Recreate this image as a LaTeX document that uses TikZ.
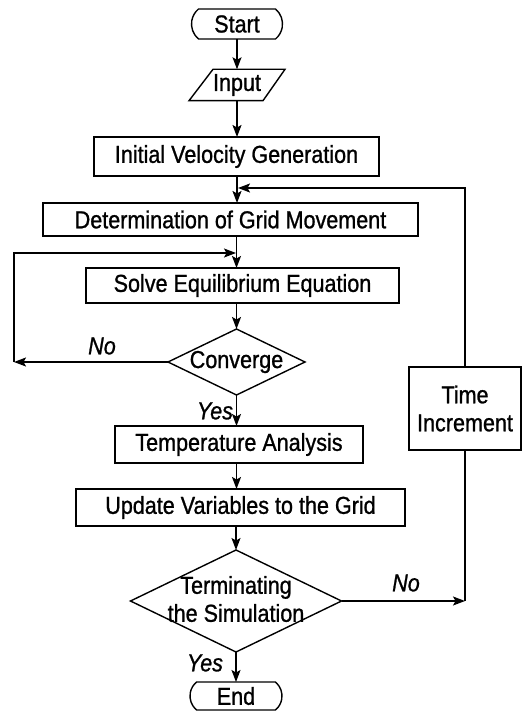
\documentclass[tikz,border=0pt]{standalone}
\usepackage{fontspec}
\setmainfont{Liberation Sans}[FakeStretch=0.88,FakeBold=1]
\usetikzlibrary{shapes.geometric,shapes.misc,arrows.meta}

\begin{document}
\begin{tikzpicture}[x=1pt,y=-1pt,
  font=\fontsize{24.5}{28}\selectfont,
  line width=1.4pt,
  box/.style={draw, rectangle, inner sep=0pt, outer sep=0pt},
  terminal/.style={draw, rounded rectangle, rounded rectangle arc length=100, inner sep=0pt, outer sep=0pt},
  decision/.style={draw, diamond, inner sep=0pt, outer sep=0pt},
  flow/.style={-{Stealth[length=12pt,width=9pt,inset=2.5pt]}},
  lbl/.style={font=\fontsize{24.5}{28}\selectfont\itshape},
]
\useasboundingbox (0,0) rectangle (524,711);

% process steps
\node[terminal, minimum width=91pt, minimum height=30pt] (start) at (237,24) {Start};
\node[inner sep=0pt, minimum width=74pt, minimum height=30pt] (input) at (237,85) {Input};
\draw ([xshift=-24pt]input.north) -- ([xshift=48pt]input.north)
   -- ([xshift=26pt]input.south) -- ([xshift=-48pt]input.south) -- cycle;
\node[box, minimum width=285pt, minimum height=39pt] (ivg) at (236.5,156.5) {Initial Velocity Generation};
\node[box, minimum width=375pt, minimum height=33pt] (dgm) at (230.5,219.5) {Determination of Grid Movement};
\node[box, minimum width=313pt, minimum height=35pt] (see) at (242.5,285.5) {Solve Equilibrium Equation};
\node[decision, minimum width=137pt, minimum height=66pt] (conv) at (236.5,362) {};
\node (convtxt) at (236.5,362) {Converge};
\node[box, minimum width=248pt, minimum height=37pt] (temp) at (239,444.5) {Temperature Analysis};
\node[box, minimum width=329pt, minimum height=37pt] (upd) at (240.5,507.5) {Update Variables to the Grid};
\node[decision, minimum width=211pt, minimum height=102pt] (termd) at (236,601) {};
\node[align=center, inner sep=0pt] (termtxt) at (236,599) {Terminating\\the Simulation};
\node[terminal, minimum width=92pt, minimum height=28pt] (end) at (236,696) {End};
\node[box, align=center, minimum width=112pt, minimum height=83pt] (tinc) at (465,408.5) {Time\\Increment};

% main flow
\draw[flow] (start.south) -- (start.south |- input.north);
\draw[flow] (input.south) -- (input.south |- ivg.north);
\draw[flow] (ivg.south -| input.south) -- (input.south |- dgm.north);
\draw[flow] (dgm.south -| conv.north) -- (conv.north |- see.north);
\draw[flow] (see.south -| conv.north) -- (conv.north);
\draw[flow] (conv.south) -- (conv.south |- temp.north);
\draw[flow] (temp.south -| conv.south) -- (conv.south |- upd.north);
\draw[flow] (upd.south -| termd.north) -- (termd.north);
\draw[flow] (termd.south) -- (end.north);

% inner loop: not converged
\coordinate (nl) at (14,362);
\coordinate (nj) at (236,253);
\draw[flow] (conv.west) -- (nl);
\draw[flow] (nl) |- (nj);

% outer loop: next time step
\coordinate (fb) at (238,188);
\draw[flow] (termd.east) -- (termd.east -| tinc.south);
\draw (tinc.south) -- (tinc.south |- termd.east);
\draw[flow] (tinc.north) |- (fb);

% branch labels
\node[lbl] (no1) at (102,346) {No};
\node[lbl] (yes1) at (215,411) {Yes};
\node[lbl] (no2) at (406,583) {No};
\node[lbl] (yes2) at (205,663) {Yes};
\end{tikzpicture}
\end{document}
